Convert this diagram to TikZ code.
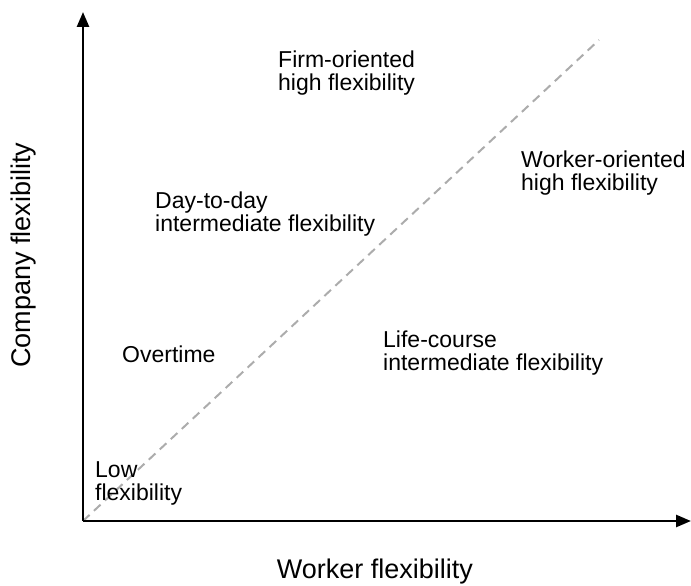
\documentclass[tikz,border=0pt]{standalone}
\usepackage{fontspec}
\setmainfont{Liberation Sans}
\usetikzlibrary{arrows.meta,positioning}

\tikzset{
  zone/.style={align=left,inner sep=0pt,anchor=base west,font=\fontsize{23}{23.5}\selectfont},
  axislbl/.style={inner sep=0pt,anchor=base,font=\fontsize{27}{30}\selectfont},
  axis/.style={line width=2.6pt,-{Triangle[length=15pt,width=12pt]}},
  diag/.style={line width=2pt,gray!65,dash pattern=on 9pt off 6pt}
}

\begin{document}
\begin{tikzpicture}[x=1pt,y=-1pt]
  \useasboundingbox (0,0) rectangle (691,586);
  % axes
  \coordinate (o) at (83,521);
  \coordinate (ytip) at (83,12);
  \coordinate (xtip) at (691,521);
  \coordinate (dend) at (599,40);
  \draw[diag] (o) -- (dend);
  \draw[axis] (o) -- (ytip);
  \draw[axis] (o) -- (xtip);
  \node[axislbl,rotate=90] (ylbl) at (30,255) {Company flexibility};
  \node[axislbl] (xlbl) at (375,578) {Worker flexibility};
  % zones (base = last line)
  \node[zone] (firm) at (278,90.5) {Firm-oriented\\high flexibility};
  \node[zone] (worker) at (521,190.5) {Worker-oriented\\high flexibility};
  \node[zone] (daily) at (155,231.5) {Day-to-day\\intermediate flexibility};
  \node[zone] (life) at (383,370.5) {Life-course\\intermediate flexibility};
  \node[zone] (over) at (122,362) {Overtime};
  \node[zone] (low) at (95,500.5) {Low\\flexibility};
\end{tikzpicture}
\end{document}
